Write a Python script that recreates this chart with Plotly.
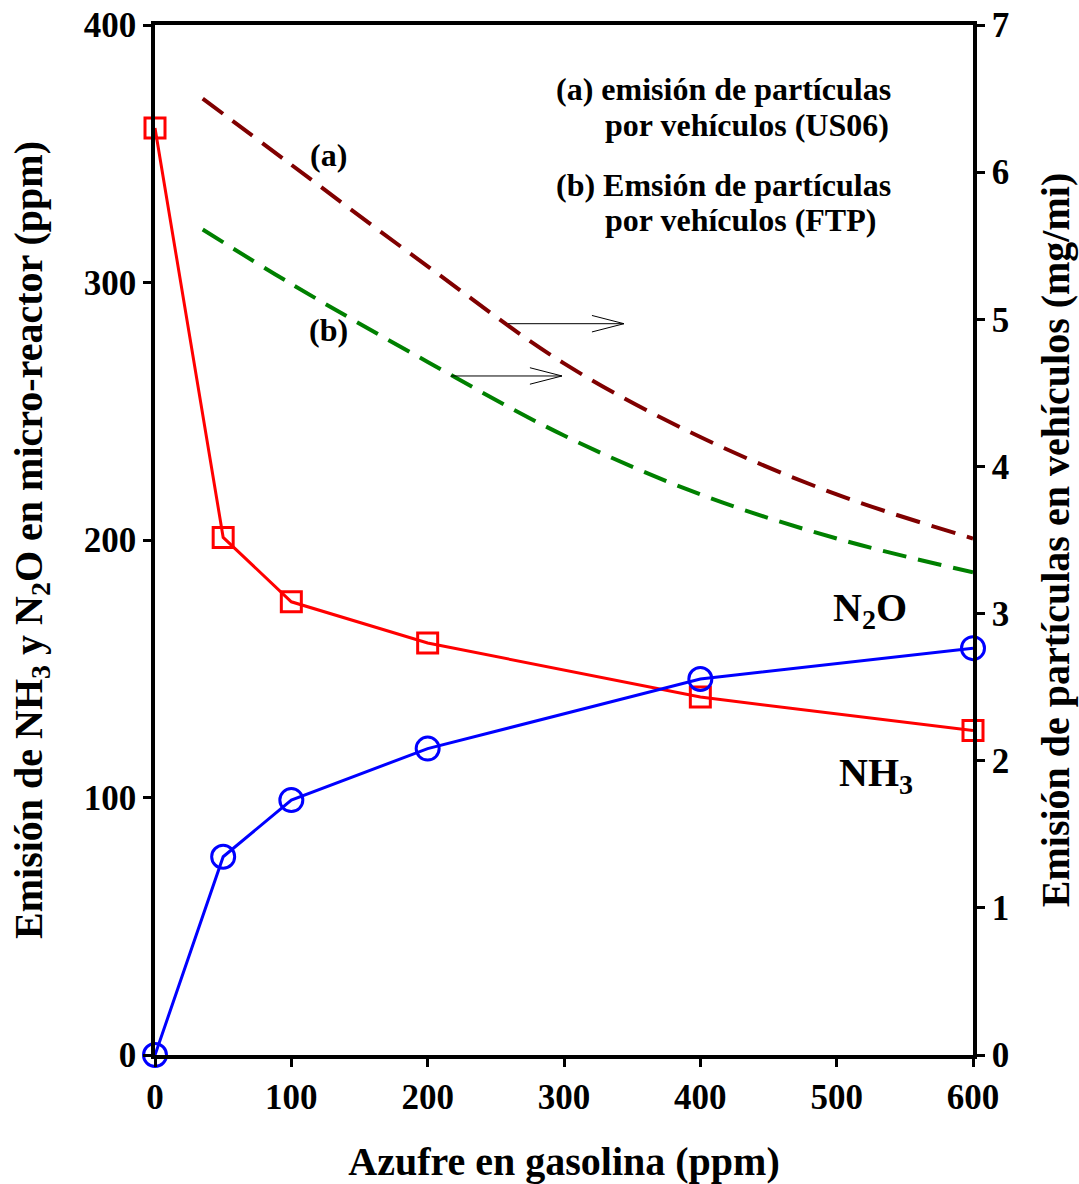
import plotly.graph_objects as go

# ---- data ----
sulfur = [0, 50, 100, 200, 400, 600]
nh3_red = [360, 201, 176, 160, 139, 126]
n2o_blue = [0, 77, 99, 119, 146, 158]

curve_x = [35, 100, 200, 300, 400, 500, 600]
part_us06 = [6.50, 6.05, 5.36, 4.70, 4.20, 3.81, 3.51]
part_ftp = [5.61, 5.24, 4.71, 4.21, 3.81, 3.51, 3.28]

x_ticks = [0, 100, 200, 300, 400, 500, 600]
y_ticks = [0, 100, 200, 300, 400]
y2_ticks = [0, 1, 2, 3, 4, 5, 6, 7]

# arrows (x0, x1, y) in data units of x / left y
arrows = [(259, 344, 284), (217, 298.5, 263.7)]

FONT = "Liberation Serif"

fig = go.Figure()

fig.add_trace(go.Scatter(
    x=curve_x, y=part_us06, yaxis="y2", mode="lines",
    line=dict(color="#800000", width=4, dash="25px,12px", shape="spline"),
    showlegend=False))
fig.add_trace(go.Scatter(
    x=curve_x, y=part_ftp, yaxis="y2", mode="lines",
    line=dict(color="#008000", width=4, dash="24px,12px", shape="spline"),
    showlegend=False))

fig.add_trace(go.Scatter(
    x=sulfur, y=nh3_red, mode="lines+markers",
    line=dict(color="#ff0000", width=3),
    marker=dict(symbol="square-open", size=20, color="#ff0000",
                line=dict(width=3, color="#ff0000")),
    cliponaxis=False, showlegend=False))
fig.add_trace(go.Scatter(
    x=sulfur, y=n2o_blue, mode="lines+markers",
    line=dict(color="#0000ff", width=3),
    marker=dict(symbol="circle-open", size=23, color="#0000ff",
                line=dict(width=3, color="#0000ff")),
    cliponaxis=False, showlegend=False))

shapes = []
head_dx = 23.5
head_dy = 3.2
for x0, x1, y in arrows:
    shapes.append(dict(type="line", xref="x", yref="y", x0=x0, x1=x1, y0=y, y1=y,
                       line=dict(color="black", width=1)))
    shapes.append(dict(type="line", xref="x", yref="y", x0=x1 - head_dx, x1=x1,
                       y0=y + head_dy, y1=y, line=dict(color="black", width=1)))
    shapes.append(dict(type="line", xref="x", yref="y", x0=x1 - head_dx, x1=x1,
                       y0=y - head_dy, y1=y, line=dict(color="black", width=1)))

bold = dict(family=FONT, color="black", weight="bold")

def ann(text, x, y, size, xanchor="center"):
    return dict(text=text, x=x, y=y, xref="paper", yref="paper", showarrow=False,
                xanchor=xanchor, yanchor="middle",
                font=dict(size=size, **bold))

# paper coords: plot area x 155..973, y 25..1055
def px(xp):
    return (xp - 155) / 818

def py(yp):
    return (1055 - yp) / 1030

annotations = [
    ann("(a) emisión de partículas", px(554), py(89), 32, "left"),
    ann("por vehículos (US06)", px(603), py(125), 32, "left"),
    ann("(b) Emsión de partículas", px(554), py(185), 32, "left"),
    ann("por vehículos (FTP)", px(603), py(220), 32, "left"),
    ann("(a)", px(328), py(155), 32),
    ann("(b)", px(328), py(330), 32),
    ann("N<sub>2</sub>O", px(870), py(610), 40),
    ann("NH<sub>3</sub>", px(876), py(775), 40),
]

axis_common = dict(
    showline=True, linecolor="black", linewidth=3.5,
    ticks="outside", ticklen=8, tickwidth=3, tickcolor="black",
    showgrid=False, zeroline=False, automargin=False,
    tickfont=dict(size=35, **bold),
)

fig.update_layout(
    width=1079, height=1184,
    margin=dict(l=155, r=106, t=25, b=129),
    plot_bgcolor="white", paper_bgcolor="white",
    xaxis=dict(range=[0, 600], tickvals=x_ticks, mirror=True,
               title=dict(text="Azufre en gasolina (ppm)", standoff=32,
                          font=dict(size=40, **bold)),
               **axis_common),
    yaxis=dict(range=[0, 400], tickvals=y_ticks,
               title=dict(text="Emisión de NH<sub>3</sub> y N<sub>2</sub>O en micro-reactor (ppm)",
                          standoff=30, font=dict(size=40, **bold)),
               **axis_common),
    yaxis2=dict(range=[0, 7], tickvals=y2_ticks, overlaying="y", side="right",
                title=dict(text="Emisión de partículas en vehículos (mg/mi)",
                           standoff=34, font=dict(size=40, **bold)),
                **axis_common),
    shapes=shapes,
    annotations=annotations,
)

fig.write_html("out.html")
